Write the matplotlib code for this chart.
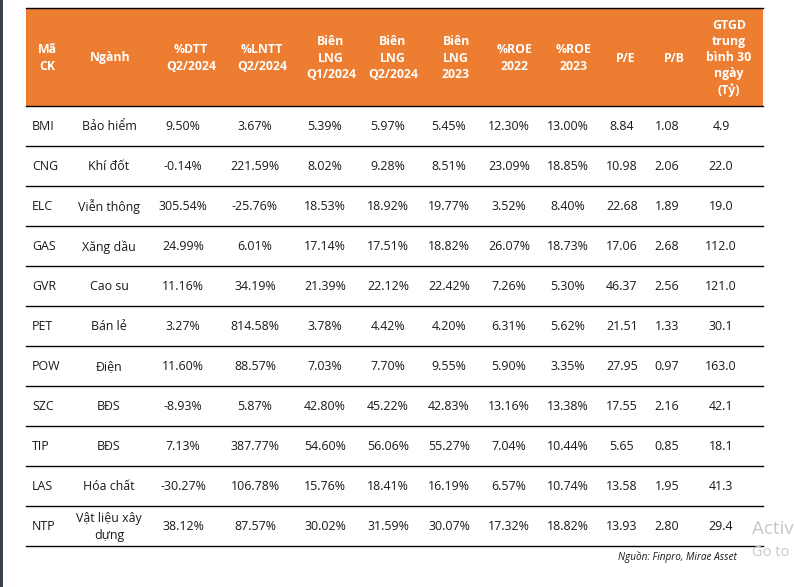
import matplotlib
matplotlib.use("Agg")
import matplotlib.pyplot as plt
from matplotlib.patches import Rectangle

headers = ["Mã\nCK", "Ngành", "%DTT\nQ2/2024", "%LNTT\nQ2/2024",
           "Biên\nLNG\nQ1/2024", "Biên\nLNG\nQ2/2024", "Biên\nLNG\n2023",
           "%ROE\n2022", "%ROE\n2023", "P/E", "P/B",
           "GTGD\ntrung\nbình 30\nngày\n(Tỷ)"]
ma_ck = ["BMI", "CNG", "ELC", "GAS", "GVR", "PET", "POW", "SZC", "TIP", "LAS", "NTP"]
nganh = ["Bảo hiểm", "Khí đốt", "Viễn thông", "Xăng dầu", "Cao su", "Bán lẻ",
         "Điện", "BĐS", "BĐS", "Hóa chất", "Vật liệu xây\ndựng"]
dtt = [9.50, -0.14, 305.54, 24.99, 11.16, 3.27, 11.60, -8.93, 7.13, -30.27, 38.12]
lntt = [3.67, 221.59, -25.76, 6.01, 34.19, 814.58, 88.57, 5.87, 387.77, 106.78, 87.57]
lng_q1 = [5.39, 8.02, 18.53, 17.14, 21.39, 3.78, 7.03, 42.80, 54.60, 15.76, 30.02]
lng_q2 = [5.97, 9.28, 18.92, 17.51, 22.12, 4.42, 7.70, 45.22, 56.06, 18.41, 31.59]
lng_2023 = [5.45, 8.51, 19.77, 18.82, 22.42, 4.20, 9.55, 42.83, 55.27, 16.19, 30.07]
roe_2022 = [12.30, 23.09, 3.52, 26.07, 7.26, 6.31, 5.90, 13.16, 7.04, 6.57, 17.32]
roe_2023 = [13.00, 18.85, 8.40, 18.73, 5.30, 5.62, 3.35, 13.38, 10.44, 10.74, 18.82]
pe = [8.84, 10.98, 22.68, 17.06, 46.37, 21.51, 27.95, 17.55, 5.65, 13.58, 13.93]
pb = [1.08, 2.06, 1.89, 2.68, 2.56, 1.33, 0.97, 2.16, 0.85, 1.95, 2.80]
gtgd = [4.9, 22.0, 19.0, 112.0, 121.0, 30.1, 163.0, 42.1, 18.1, 41.3, 29.4]
source = "Nguồn: Finpro, Mirae Asset"

FONT = ["Open Sans", "DejaVu Sans"]
W, H = 794, 587
fig = plt.figure(figsize=(W / 100, H / 100), dpi=100)
ax = fig.add_axes([0, 0, 1, 1])
ax.set_xlim(0, W)
ax.set_ylim(H, 0)
ax.axis("off")

# layout (pixels)
left, right = 26, 763
top, head_bot = 8, 106
row_h = 40
orange = "#ED7D31"
head_x = [47, 110, 191, 262, 331, 393, 456, 515, 574, 626, 674, 729]
data_x = [32, 109, 183, 255, 325, 388, 449, 509, 568, 622, 667, 721]

# dark strip at left edge
ax.add_patch(Rectangle((0, 0), 3, H, color="#3b4148", lw=0))

# header
ax.add_patch(Rectangle((left, top), right - left, head_bot - top, color=orange, lw=0))
ax.plot([left, right], [top, top], color="black", lw=1.0)
for x, h in zip(head_x, headers):
    ax.text(x, (top + head_bot) / 2 + 1, h, ha="center", va="center", color="white",
            fontsize=8.8, fontweight="bold", family=FONT, linespacing=1.33)

pct = lambda v: f"{v:.2f}%"
columns = [ma_ck, nganh,
           [pct(v) for v in dtt], [pct(v) for v in lntt],
           [pct(v) for v in lng_q1], [pct(v) for v in lng_q2], [pct(v) for v in lng_2023],
           [pct(v) for v in roe_2022], [pct(v) for v in roe_2023],
           [f"{v:.2f}" for v in pe], [f"{v:.2f}" for v in pb], [f"{v:.1f}" for v in gtgd]]

n = len(ma_ck)
for i in range(n):
    y0 = head_bot + i * row_h
    ax.plot([left, right], [y0, y0], color="black", lw=1.0)
    yc = y0 + row_h / 2 + 1
    for j, col in enumerate(columns):
        ha = "left" if j == 0 else "center"
        ax.text(data_x[j], yc, col[i], ha=ha, va="center", color="#1a1a1a",
                fontsize=8.9, family=FONT, linespacing=1.33)
ax.plot([left, right], [head_bot + n * row_h, head_bot + n * row_h], color="black", lw=1.0)

ax.text(737, 557, source, ha="right", va="center", fontsize=7.2, style="italic",
        color="#1a1a1a", family=FONT)

# watermark remnants
ax.text(752, 529, "Activ", ha="left", va="center", fontsize=13.5, color="#c8c8c8", family=FONT)
ax.text(752, 553, "Go to", ha="left", va="center", fontsize=10.5, color="#c8c8c8", family=FONT)

fig.savefig("out.png", dpi=100)
